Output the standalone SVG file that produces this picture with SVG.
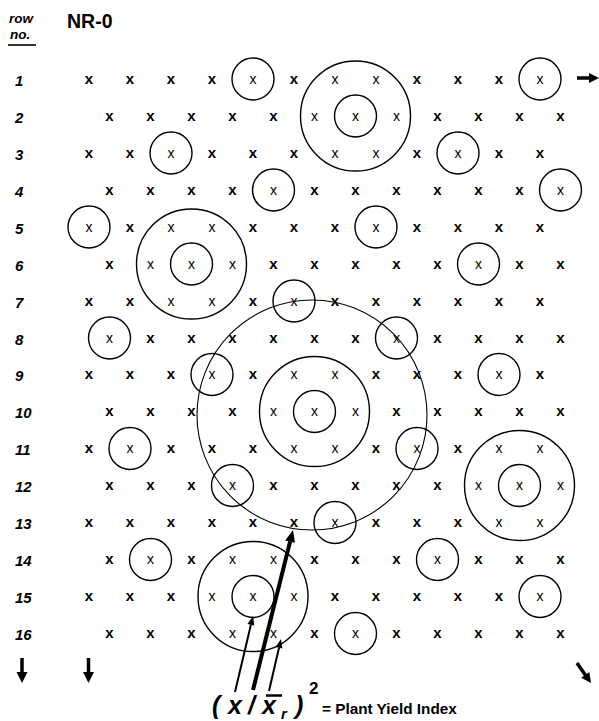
<svg xmlns="http://www.w3.org/2000/svg" width="599" height="721" viewBox="0 0 599 721">
<style>
text{font-family:"Liberation Sans",Arial,sans-serif;fill:#000}
.b{font-weight:bold;font-size:15px;text-anchor:middle}
.n{font-weight:normal;font-size:14px;text-anchor:middle}
.lab{font-style:italic;font-weight:bold;font-size:15px}
.hd{font-style:italic;font-weight:bold;font-size:13.5px}
.f{font-style:italic;font-weight:bold;font-size:25px}
circle{fill:none;stroke:#000;stroke-width:1.4}
.big{stroke-width:1.1}
.ln{stroke:#000;fill:none}
.ah{fill:#000;stroke:none}
</style>
<rect width="599" height="721" fill="#fff"/>
<g id="header">
<text class="hd" x="9" y="22.5">row</text>
<text class="hd" x="10" y="38.5">no.</text>
<line x1="8" y1="45" x2="36" y2="45" stroke="#000" stroke-width="1.6"/>
<text x="67" y="28" font-weight="bold" font-size="19.5">NR-0</text>
</g>
<g id="row-labels" class="lab">
<text x="15" y="85.5">1</text><text x="15" y="122.5">2</text><text x="15" y="159.5">3</text><text x="15" y="196.5">4</text>
<text x="15" y="233.5">5</text><text x="15" y="270.5">6</text><text x="15" y="307.5">7</text><text x="15" y="344.5">8</text>
<text x="15" y="381">9</text><text x="15" y="418">10</text><text x="15" y="455">11</text><text x="15" y="492">12</text>
<text x="15" y="529">13</text><text x="15" y="566">14</text><text x="15" y="603">15</text><text x="15" y="640">16</text>
</g>
<g id="row1" transform="translate(0,83.5)"><text class="b" x="89">x</text><text class="b" x="130">x</text><text class="b" x="171">x</text><text class="b" x="212">x</text><text class="n" x="253">x</text><text class="b" x="294">x</text><text class="n" x="335">x</text><text class="n" x="376">x</text><text class="b" x="417">x</text><text class="b" x="458">x</text><text class="b" x="499">x</text><text class="n" x="540">x</text></g>
<g id="row2" transform="translate(0,120.5)"><text class="b" x="109.5">x</text><text class="b" x="150.5">x</text><text class="b" x="191.5">x</text><text class="b" x="232.5">x</text><text class="b" x="273.5">x</text><text class="n" x="314.5">x</text><text class="n" x="355.5">x</text><text class="n" x="396.5">x</text><text class="b" x="437.5">x</text><text class="b" x="478.5">x</text><text class="b" x="519.5">x</text><text class="b" x="560.5">x</text></g>
<g id="row3" transform="translate(0,157.5)"><text class="b" x="89">x</text><text class="b" x="130">x</text><text class="n" x="171">x</text><text class="b" x="212">x</text><text class="b" x="253">x</text><text class="b" x="294">x</text><text class="n" x="335">x</text><text class="n" x="376">x</text><text class="b" x="417">x</text><text class="n" x="458">x</text><text class="b" x="499">x</text><text class="b" x="540">x</text></g>
<g id="row4" transform="translate(0,194.5)"><text class="b" x="109.5">x</text><text class="b" x="150.5">x</text><text class="b" x="191.5">x</text><text class="b" x="232.5">x</text><text class="n" x="273.5">x</text><text class="b" x="314.5">x</text><text class="b" x="355.5">x</text><text class="b" x="396.5">x</text><text class="b" x="437.5">x</text><text class="b" x="478.5">x</text><text class="b" x="519.5">x</text><text class="n" x="560.5">x</text></g>
<g id="row5" transform="translate(0,231.5)"><text class="n" x="89">x</text><text class="b" x="130">x</text><text class="n" x="171">x</text><text class="n" x="212">x</text><text class="b" x="253">x</text><text class="b" x="294">x</text><text class="b" x="335">x</text><text class="n" x="376">x</text><text class="b" x="417">x</text><text class="b" x="458">x</text><text class="b" x="499">x</text><text class="b" x="540">x</text></g>
<g id="row6" transform="translate(0,268.5)"><text class="b" x="109.5">x</text><text class="n" x="150.5">x</text><text class="n" x="191.5">x</text><text class="n" x="232.5">x</text><text class="b" x="273.5">x</text><text class="b" x="314.5">x</text><text class="b" x="355.5">x</text><text class="b" x="396.5">x</text><text class="b" x="437.5">x</text><text class="n" x="478.5">x</text><text class="b" x="519.5">x</text><text class="b" x="560.5">x</text></g>
<g id="row7" transform="translate(0,305.5)"><text class="b" x="89">x</text><text class="b" x="130">x</text><text class="n" x="171">x</text><text class="n" x="212">x</text><text class="b" x="253">x</text><text class="n" x="294">x</text><text class="b" x="335">x</text><text class="b" x="376">x</text><text class="b" x="417">x</text><text class="b" x="458">x</text><text class="b" x="499">x</text><text class="b" x="540">x</text></g>
<g id="row8" transform="translate(0,342.5)"><text class="n" x="109.5">x</text><text class="b" x="150.5">x</text><text class="b" x="191.5">x</text><text class="b" x="232.5">x</text><text class="b" x="273.5">x</text><text class="b" x="314.5">x</text><text class="b" x="355.5">x</text><text class="n" x="396.5">x</text><text class="b" x="437.5">x</text><text class="b" x="478.5">x</text><text class="b" x="519.5">x</text><text class="b" x="560.5">x</text></g>
<g id="row9" transform="translate(0,379)"><text class="b" x="89">x</text><text class="b" x="130">x</text><text class="b" x="171">x</text><text class="n" x="212">x</text><text class="b" x="253">x</text><text class="n" x="294">x</text><text class="n" x="335">x</text><text class="b" x="376">x</text><text class="b" x="417">x</text><text class="b" x="458">x</text><text class="n" x="499">x</text><text class="b" x="540">x</text></g>
<g id="row10" transform="translate(0,416)"><text class="b" x="109.5">x</text><text class="b" x="150.5">x</text><text class="b" x="191.5">x</text><text class="b" x="232.5">x</text><text class="n" x="273.5">x</text><text class="n" x="314.5">x</text><text class="n" x="355.5">x</text><text class="b" x="396.5">x</text><text class="b" x="437.5">x</text><text class="b" x="478.5">x</text><text class="b" x="519.5">x</text><text class="b" x="560.5">x</text></g>
<g id="row11" transform="translate(0,453)"><text class="b" x="89">x</text><text class="n" x="130">x</text><text class="b" x="171">x</text><text class="b" x="212">x</text><text class="b" x="253">x</text><text class="n" x="294">x</text><text class="n" x="335">x</text><text class="b" x="376">x</text><text class="n" x="417">x</text><text class="b" x="458">x</text><text class="n" x="499">x</text><text class="n" x="540">x</text></g>
<g id="row12" transform="translate(0,490)"><text class="b" x="109.5">x</text><text class="b" x="150.5">x</text><text class="b" x="191.5">x</text><text class="n" x="232.5">x</text><text class="b" x="273.5">x</text><text class="b" x="314.5">x</text><text class="b" x="355.5">x</text><text class="b" x="396.5">x</text><text class="b" x="437.5">x</text><text class="n" x="478.5">x</text><text class="n" x="519.5">x</text><text class="n" x="560.5">x</text></g>
<g id="row13" transform="translate(0,527)"><text class="b" x="89">x</text><text class="b" x="130">x</text><text class="b" x="171">x</text><text class="b" x="212">x</text><text class="b" x="253">x</text><text class="b" x="294">x</text><text class="n" x="335">x</text><text class="b" x="376">x</text><text class="b" x="417">x</text><text class="b" x="458">x</text><text class="n" x="499">x</text><text class="n" x="540">x</text></g>
<g id="row14" transform="translate(0,564)"><text class="b" x="109.5">x</text><text class="n" x="150.5">x</text><text class="b" x="191.5">x</text><text class="n" x="232.5">x</text><text class="n" x="273.5">x</text><text class="b" x="314.5">x</text><text class="b" x="355.5">x</text><text class="b" x="396.5">x</text><text class="n" x="437.5">x</text><text class="b" x="478.5">x</text><text class="b" x="519.5">x</text><text class="b" x="560.5">x</text></g>
<g id="row15" transform="translate(0,601)"><text class="b" x="89">x</text><text class="b" x="130">x</text><text class="b" x="171">x</text><text class="n" x="212">x</text><text class="n" x="253">x</text><text class="n" x="294">x</text><text class="b" x="335">x</text><text class="b" x="376">x</text><text class="b" x="417">x</text><text class="b" x="458">x</text><text class="b" x="499">x</text><text class="n" x="540">x</text></g>
<g id="row16" transform="translate(0,638)"><text class="b" x="109.5">x</text><text class="b" x="150.5">x</text><text class="b" x="191.5">x</text><text class="n" x="232.5">x</text><text class="n" x="273.5">x</text><text class="b" x="314.5">x</text><text class="n" x="355.5">x</text><text class="b" x="396.5">x</text><text class="b" x="437.5">x</text><text class="b" x="478.5">x</text><text class="b" x="519.5">x</text><text class="b" x="560.5">x</text></g>
<g id="circles">
<circle cx="253" cy="79" r="21"/><circle cx="540" cy="79" r="21"/><circle cx="355.5" cy="116" r="21"/>
<circle cx="171" cy="153" r="21"/><circle cx="458" cy="153" r="21"/><circle cx="273.5" cy="190" r="21"/><circle cx="560.5" cy="190" r="21"/>
<circle cx="89" cy="227" r="21"/><circle cx="376" cy="227" r="21"/><circle cx="191.5" cy="264" r="21"/><circle cx="478.5" cy="264" r="21"/>
<circle cx="294" cy="301" r="21"/><circle cx="109.5" cy="338" r="21"/><circle cx="396.5" cy="338" r="21"/>
<circle cx="212" cy="374.5" r="21"/><circle cx="499" cy="374.5" r="21"/><circle cx="314.5" cy="411.5" r="21"/>
<circle cx="130" cy="448.5" r="21"/><circle cx="417" cy="448.5" r="21"/><circle cx="232.5" cy="485.5" r="21"/><circle cx="519.5" cy="485.5" r="21"/>
<circle cx="335" cy="522.5" r="21"/><circle cx="150.5" cy="559.5" r="21"/><circle cx="437.5" cy="559.5" r="21"/>
<circle cx="253" cy="596.5" r="21"/><circle cx="540" cy="596.5" r="21"/><circle cx="355.5" cy="633.5" r="21"/>
<circle cx="355.5" cy="116" r="55"/><circle cx="191.5" cy="264" r="55"/><circle cx="314.5" cy="411.5" r="55"/><circle cx="519.5" cy="485.5" r="55"/><circle cx="253" cy="596.5" r="55"/>
<circle class="big" cx="312" cy="415" r="115"/>
</g>
<g id="connectors">
<line class="ln" x1="577" y1="78" x2="590" y2="78" stroke-width="3.5"/>
<polygon class="ah" points="589,73 599,78 589,83"/>
<line class="ln" x1="22" y1="658" x2="22" y2="673" stroke-width="3.5"/>
<polygon class="ah" points="16.5,672 27.5,672 22,683"/>
<line class="ln" x1="88.5" y1="658" x2="88.5" y2="673" stroke-width="3.5"/>
<polygon class="ah" points="83,672 94,672 88.5,683"/>
<line class="ln" x1="577" y1="663" x2="586" y2="676" stroke-width="3.5"/>
<polygon class="ah" points="581.17,677.68 591,683 589.37,671.94"/>
<line class="ln" x1="235" y1="692" x2="250.9" y2="624.8" stroke-width="2"/>
<polygon class="ah" points="254.34,625.57 253,616 247.52,623.95"/>
<line class="ln" x1="253" y1="690" x2="290.1" y2="541.6" stroke-width="4"/>
<polygon class="ah" points="294.94,542.85 293,530 285.24,540.43"/>
<line class="ln" x1="269" y1="691" x2="279" y2="647.8" stroke-width="2"/>
<polygon class="ah" points="282.39,648.56 281,639 275.57,646.98"/>
</g>
<g id="formula">
<text class="f" x="212" y="714">(</text>
<text class="f" x="228" y="714">x</text>
<text class="f" x="248" y="714">/</text>
<text class="f" x="262" y="714">x</text>
<line x1="266" y1="695.5" x2="282" y2="695.5" stroke="#000" stroke-width="2.5"/>
<text x="281" y="719" font-style="italic" font-weight="bold" font-size="15">r</text>
<text class="f" x="295" y="714">)</text>
<text x="309" y="694" font-weight="bold" font-size="17">2</text>
<text x="322" y="714" font-weight="bold" font-size="15.3">= Plant Yield Index</text>
</g>
</svg>
